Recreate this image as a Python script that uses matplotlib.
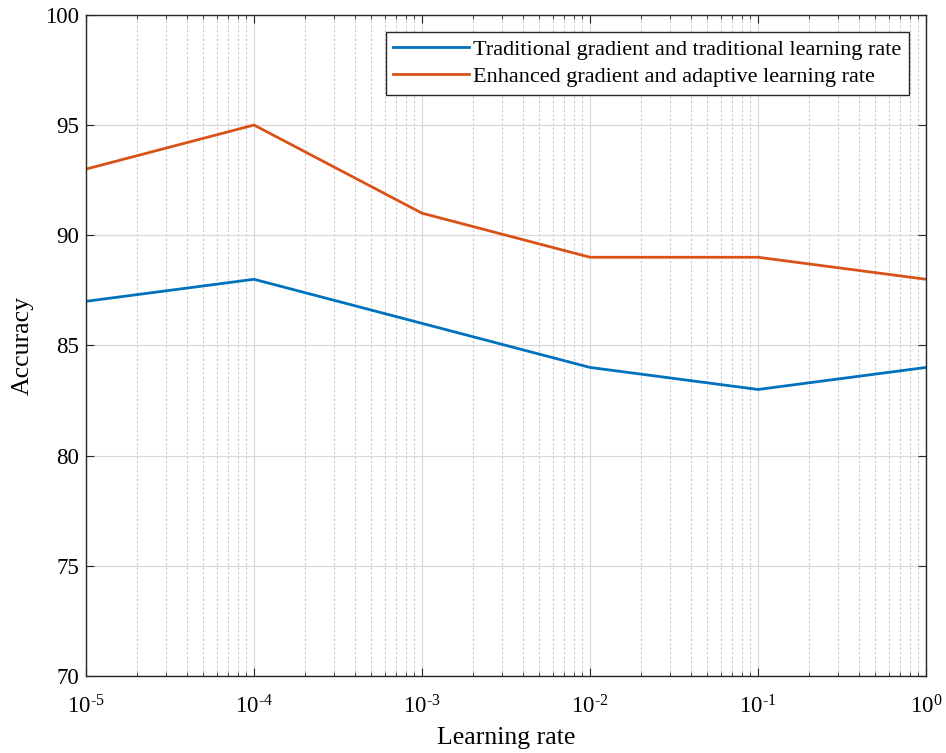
import matplotlib
matplotlib.use("Agg")
import matplotlib.pyplot as plt
from matplotlib.ticker import LogLocator, NullFormatter, FuncFormatter
import numpy as np

plt.rcParams['font.family'] = ['Liberation Serif', 'DejaVu Serif']
plt.rcParams['mathtext.fontset'] = 'custom'
plt.rcParams['mathtext.rm'] = 'Liberation Serif'
plt.rcParams['mathtext.it'] = 'Liberation Serif:italic'

learning_rate = [1e-5, 1e-4, 1e-3, 1e-2, 1e-1, 1e0]
acc_traditional = [87, 88, 86, 84, 83, 84]
acc_enhanced = [93, 95, 91, 89, 89, 88]
labels = ["Traditional gradient and traditional learning rate",
          "Enhanced gradient and adaptive learning rate"]


def log_label(v, pos):
    e = int(round(np.log10(v)))
    if e < 0:
        return r"$\mathregular{10}^{\mathregular{\text{-}%d}}$" % (-e)
    return r"$\mathregular{10}^{\mathregular{%d}}$" % e


fig = plt.figure(figsize=(9.46, 7.53), dpi=100)
ax = fig.add_axes([0.0909, 0.1023, 0.888, 0.878])

ax.plot(learning_rate, acc_traditional, color="#0072BD", lw=2.0, label=labels[0])
ax.plot(learning_rate, acc_enhanced, color="#D95319", lw=2.0, label=labels[1])

ax.set_xscale("log")
ax.set_xlim(1e-5, 1)
ax.set_ylim(70, 100)
ax.set_yticks(range(70, 101, 5))
ax.xaxis.set_major_locator(LogLocator(base=10, numticks=10))
ax.xaxis.set_major_formatter(FuncFormatter(log_label))
ax.xaxis.set_minor_locator(LogLocator(base=10, subs=range(2, 10), numticks=20))
ax.xaxis.set_minor_formatter(NullFormatter())

ax.grid(True, which="major", color="#d9d9d9", lw=0.9)
ax.grid(True, which="minor", axis="x", color="#c8c8c8", lw=0.8, ls=(0, (2, 2)))
ax.set_axisbelow(True)

ax.tick_params(which="both", direction="in", top=True, right=True, labelsize=16.5, color="#262626")
ax.tick_params(which="major", length=6)
ax.tick_params(which="minor", length=3)
ax.tick_params(axis="x", pad=14)
ax.tick_params(axis="y", pad=5)
for s in ax.spines.values():
    s.set_color("#262626")
    s.set_linewidth(1.0)

ax.set_xlabel("Learning rate", fontsize=18.5, labelpad=6)
ax.set_ylabel("Accuracy", fontsize=18.5, labelpad=8)

leg = ax.legend(loc="upper right", fontsize=16, fancybox=False, framealpha=1,
                edgecolor="#262626", borderaxespad=0.75, handlelength=3.4,
                handletextpad=0.2, borderpad=0.35, labelspacing=0.3)
leg.get_frame().set_linewidth(1.0)

fig.savefig("out.png", dpi=100)
